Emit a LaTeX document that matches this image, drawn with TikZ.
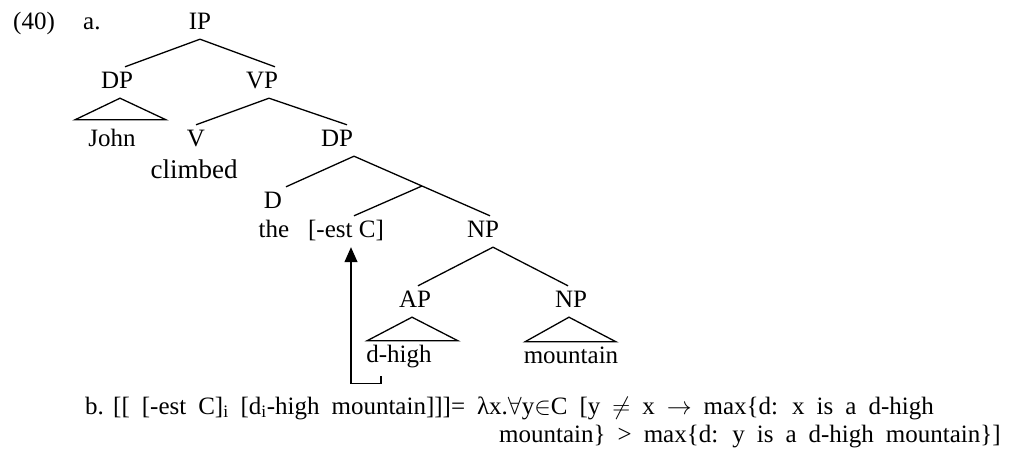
\documentclass[tikz,border=0pt]{standalone}
\usepackage{fontspec}
\setmainfont{Liberation Serif}
\usetikzlibrary{arrows.meta}
\newcommand{\widespaces}{\spaceskip=12pt\relax}

\begin{document}
\begin{tikzpicture}[x=1pt, y=-1pt,
    font=\fontsize{25}{30}\selectfont,
    cat/.style={anchor=base, text height=17pt, text depth=6pt, inner xsep=0pt, inner ysep=4pt},
    txt/.style={anchor=base west, inner sep=0pt},
    branch/.style={line width=1.3pt},
    move/.style={line width=1.3pt, -{Triangle[length=15pt, width=13pt]}}]
    \useasboundingbox (0,0) rectangle (1010,455);

    % Numero de l'exemple
    \node[txt] (num) at (13,30) {(40)};
    \node[txt] (parta) at (83,30) {a.};

    % Etiquettes de l'arbre
    \node[cat] (ip) at (200,29) {IP};
    \node[cat] (dp1) at (117,88) {DP};
    \node[cat] (vp) at (262,88) {VP};
    \node[cat] (john) at (112,146) {John};
    \node[cat] (v) at (196,146) {V};
    \node[cat] (dp2) at (337,146) {DP};
    \node[cat, font=\fontsize{27}{30}\selectfont] (climbed) at (194,178) {climbed};
    \node[cat] (d) at (273,208) {D};
    \node[cat] (the) at (274,237) {the};
    \node[cat] (est) at (346,237) {[-est C]};
    \node[cat] (np1) at (483,237) {NP};
    \node[cat] (ap) at (415,307) {AP};
    \node[cat] (np2) at (571,307) {NP};
    \node[cat] (dhigh) at (399,362) {d-high};
    \node[cat] (mountain) at (571,363) {mountain};

    % Branches
    \draw[branch] (ip.south) -- ([xshift=8pt]dp1.north);
    \draw[branch] (ip.south) -- ([xshift=13pt]vp.north);
    \draw[branch] ([xshift=7pt]vp.south) -- (v.north);
    \draw[branch] ([xshift=7pt]vp.south) -- ([xshift=10pt]dp2.north);
    \draw[branch] ([xshift=17pt]dp2.south) -- ([xshift=13pt]d.north);
    \draw[branch] ([xshift=17pt]dp2.south) -- coordinate[pos=0.5] (dbar) ([xshift=7pt]np1.north);
    \draw[branch] (dbar) -- ([xshift=8pt]est.north);
    \draw[branch] ([xshift=10pt]np1.south) -- ([xshift=3pt]ap.north);
    \draw[branch] ([xshift=10pt]np1.south) -- ([xshift=-3pt]np2.north);

    % Triangles
    \draw[branch] ([xshift=3pt]dp1.south) -- ([xshift=-37pt,yshift=5pt]john.north) -- ([xshift=54pt,yshift=5pt]john.north) -- cycle;
    \draw[branch] ([xshift=-3pt]ap.south) -- ([xshift=-32pt]dhigh.north) -- ([xshift=59pt]dhigh.north) -- cycle;
    \draw[branch] ([xshift=-2pt]np2.south) -- ([xshift=-46pt]mountain.north) -- ([xshift=45pt]mountain.north) -- cycle;

    % Mouvement de [-est C]
    \draw[move] ([xshift=-18pt,yshift=-4pt]dhigh.south) -- ++(0,7) -| ([xshift=5pt]est.south);

    % Partie b
    \node[txt] (partb) at (85,414) {b.};
    \node[txt] (sem) at (113,414) {\widespaces [[ [-est C]\textsubscript{i} [d\textsubscript{i}-high mountain]]]= λx.$\forall$y$\in$C [y $\neq$ x $\rightarrow$ max\{d: x is a d-high};
    \node[txt] (semcont) at (499,442) {\widespaces mountain\} > max\{d: y is a d-high mountain\}]};
\end{tikzpicture}
\end{document}
